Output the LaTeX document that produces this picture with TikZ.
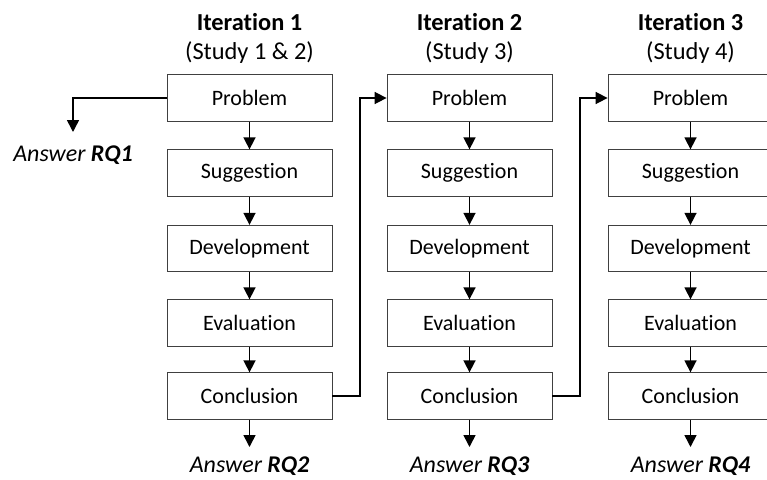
\documentclass[tikz,border=0pt]{standalone}
\usepackage{fontspec}
\setmainfont{Carlito}[Ligatures={NoCommon}]
\usetikzlibrary{arrows.meta}
\begin{document}
\begin{tikzpicture}[x=1pt,y=-1pt,
  stepbox/.style={draw=black!75,line width=0.8pt,minimum width=165pt,minimum height=46.5pt,inner sep=0pt,font=\fontsize{22}{26}\selectfont},
  conn/.style={line width=1.6pt,-{Triangle[length=12pt,width=12pt]}},
  ansr/.style={font=\fontsize{24}{28}\selectfont\itshape,inner sep=0pt},
  ttl/.style={font=\fontsize{24.4}{28}\selectfont,inner sep=0pt,align=center}]
\clip (0,0) rectangle (767,479);
\useasboundingbox (0,0) rectangle (767,479);
\foreach \c/\x in {a/249.5,b/469.5,c/690.5}{
  \node[stepbox] (\c1) at (\x,98) {Problem};
  \node[stepbox] (\c2) at (\x,173) {Suggestion};
  \node[stepbox] (\c3) at (\x,248.5) {Development};
  \node[stepbox] (\c4) at (\x,323) {Evaluation};
  \node[stepbox] (\c5) at (\x,396) {Conclusion};
  \foreach \i/\j in {1/2,2/3,3/4,4/5}{
    \draw[conn] (\c\i.south) -- (\c\j.north);
  }
  \coordinate (\c ans) at (\x,447);
  \draw[conn] (\c5.south) -- (\c ans);
}
\node[ttl] (t1) at (249.5,22) {\textbf{Iteration 1}};
\node[ttl] (s1) at (249.5,53) {(Study 1 \& 2)};
\node[ttl] (t2) at (469.5,22) {\textbf{Iteration 2}};
\node[ttl] (s2) at (469.5,53) {(Study 3)};
\node[ttl] (t3) at (690.5,22) {\textbf{Iteration 3}};
\node[ttl] (s3) at (690.5,53) {(Study 4)};
\node[ansr] (r2) at (249.5,466) {Answer \textbf{RQ2}};
\node[ansr] (r3) at (469.5,466) {Answer \textbf{RQ3}};
\node[ansr] (r4) at (690.5,466) {Answer \textbf{RQ4}};
\node[ansr] (r1) at (73,155) {Answer \textbf{RQ1}};
\coordinate (q1) at (73,132);
\draw[conn] (a1.west) -| (q1);
\draw[conn] (a5.east) -- (360,396) |- (b1.west);
\draw[conn] (b5.east) -- (580,396) |- (c1.west);
\end{tikzpicture}
\end{document}
